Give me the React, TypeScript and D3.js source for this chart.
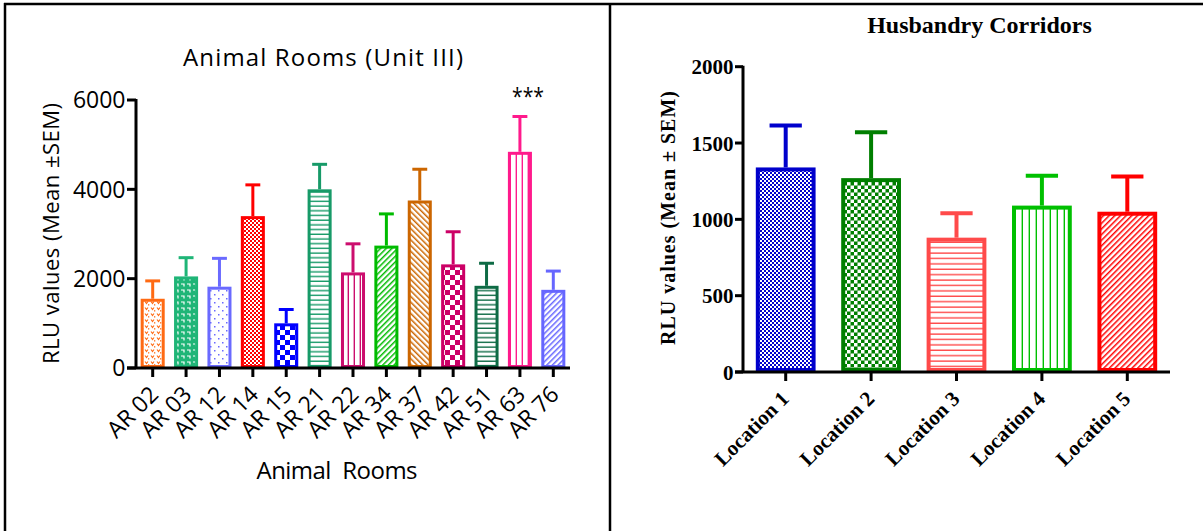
import { scaleBand, scaleLinear } from 'd3'

// left panel: animal rooms
const rooms = ['AR 02', 'AR 03', 'AR 12', 'AR 14', 'AR 15', 'AR 21', 'AR 22', 'AR 34', 'AR 37', 'AR 42', 'AR 51', 'AR 63', 'AR 76']
const roomMeans = [1550, 2050, 1820, 3400, 1000, 4000, 2140, 2740, 3750, 2320, 1840, 4840, 1750]
const roomSems = [400, 420, 635, 700, 310, 560, 640, 710, 700, 730, 505, 790, 420]
const roomTicks = [0, 2000, 4000, 6000]
const roomColors = ['#FF6A13', '#1FB577', '#6A6AFF', '#FF0000', '#0000FF', '#179A68', '#CC0E6E', '#00BB00', '#CC6600', '#CC0066', '#0E6B45', '#FF1A8C', '#6666FF']
const roomPatterns = ['hearts', 'bricks', 'dots', 'checkS', 'checkL', 'hlines', 'vlines', 'slash', 'back', 'checkL', 'hlines', 'vlines', 'slash']

// right panel: husbandry corridors
const locations = ['Location 1', 'Location 2', 'Location 3', 'Location 4', 'Location 5']
const locMeans = [1340, 1270, 880, 1090, 1050]
const locSems = [275, 300, 160, 195, 230]
const locTicks = [0, 500, 1000, 1500, 2000]
const locColors = ['#0000CC', '#007F00', '#FF4A4A', '#00C000', '#FF0000']
const locPatterns = ['checkS', 'checkM', 'hlinesW', 'vlinesW', 'slash']

const sans = '"Open Sans", Lato, sans-serif'
const serif = '"Liberation Serif", "Times New Roman", serif'

let Pattern = ({ id, kind, color }) => {
    let common = { id, patternUnits: 'userSpaceOnUse' }
    if (kind === 'checkS' || kind === 'checkM' || kind === 'checkL') {
        let s = kind === 'checkS' ? 2 : kind === 'checkM' ? 3.5 : 5
        return (
            <pattern {...common} width={2 * s} height={2 * s}>
                <rect width={2 * s} height={2 * s} fill={color} />
                <rect width={s} height={s} fill='white' />
                <rect x={s} y={s} width={s} height={s} fill='white' />
            </pattern>
        )
    }
    if (kind === 'hlines' || kind === 'hlinesW') {
        let g = kind === 'hlines' ? 4.7 : 5.4
        return (
            <pattern {...common} width={6} height={g}>
                <rect width={6} height={g} fill='white' />
                <rect y={g - 1.4} width={6} height={1.4} fill={color} />
            </pattern>
        )
    }
    if (kind === 'vlines' || kind === 'vlinesW') {
        let g = kind === 'vlines' ? 6 : 7
        return (
            <pattern {...common} width={g} height={6} x={1}>
                <rect width={g} height={6} fill='white' />
                <rect x={g - 1.4} width={1.4} height={6} fill={color} />
            </pattern>
        )
    }
    if (kind === 'slash' || kind === 'back') {
        return (
            <pattern {...common} width={4} height={4} patternTransform={`rotate(${kind === 'slash' ? 45 : -45})`}>
                <rect width={4} height={4} fill='white' />
                <rect width={1.5} height={4} fill={color} />
            </pattern>
        )
    }
    if (kind === 'dots') {
        return (
            <pattern {...common} width={8} height={8}>
                <rect width={8} height={8} fill='white' />
                <rect x={2} y={2} width={1.5} height={1.5} fill={color} />
                <rect x={6} y={6} width={1.5} height={1.5} fill={color} />
            </pattern>
        )
    }
    if (kind === 'bricks') {
        return (
            <pattern {...common} width={6} height={6}>
                <rect width={6} height={6} fill={color} />
                <path d='M1,2 H4 V4.5' stroke='white' strokeWidth={1.2} fill='none' />
            </pattern>
        )
    }
    // hearts: small orange v marks on white
    return (
        <pattern {...common} width={6} height={6}>
            <rect width={6} height={6} fill='white' />
            <path d='M1,1.5 L2.5,3.5 L4,1.5' stroke={color} strokeWidth={1.1} fill='none' />
            <rect x={4} y={4.2} width={1.3} height={1.3} fill={color} />
        </pattern>
    )
}

let BarPanel = ({ prefix, cats, means, sems, colors, patterns, ticks, yMax, xRange, yRange, pad, sw, capFrac, font, weight, tickSize, labelSize, labelDx }) => {
    let xScale = scaleBand()
        .domain(cats)
        .range(xRange)
        .paddingInner(pad)
        .paddingOuter(pad / 2)

    let yScale = scaleLinear()
        .domain([0, yMax])
        .range(yRange)

    let bw = xScale.bandwidth()
    let y0 = yScale(0)
    let axisX = xRange[0]

    return (
        <g>
            <defs>
                {cats.map((c, i) => (
                    <Pattern key={c} id={`${prefix}${i}`} kind={patterns[i]} color={colors[i]} />
                ))}
            </defs>

            {cats.map((c, i) => {
                let x0 = xScale(c)
                let cx = x0 + bw / 2
                let yTop = yScale(means[i])
                let yCap = yScale(means[i] + sems[i])
                let capW = bw * capFrac
                return (
                    <g key={c}>
                        <line x1={cx} x2={cx} y1={yTop} y2={yCap} stroke={colors[i]} strokeWidth={sw} />
                        <line x1={cx - capW / 2} x2={cx + capW / 2} y1={yCap} y2={yCap} stroke={colors[i]} strokeWidth={sw} />
                        <rect
                            x={x0 + sw / 2}
                            y={yTop + sw / 2}
                            width={bw - sw}
                            height={y0 - yTop - sw}
                            fill={`url(#${prefix}${i})`}
                            stroke={colors[i]}
                            strokeWidth={sw}
                        />
                    </g>
                )
            })}

            {/* axes */}
            <line x1={axisX} x2={axisX} y1={y0} y2={yScale(yMax) - 1} stroke='black' strokeWidth={3} />
            <line x1={axisX - tickSize} x2={xRange[1]} y1={y0} y2={y0} stroke='black' strokeWidth={3} />

            {ticks.map(t => (
                <g key={t} transform={`translate(${axisX},${yScale(t)})`}>
                    <line x1={-tickSize} x2={0} stroke='black' strokeWidth={3} />
                    <text x={-tickSize - 1.5} dy='.36em' textAnchor='end' fontFamily={font} fontWeight={weight} fontSize={labelSize}>{t}</text>
                </g>
            ))}

            {cats.map(c => {
                let cx = xScale(c) + bw / 2
                return (
                    <g key={c}>
                        <line x1={cx} x2={cx} y1={y0} y2={y0 + 9} stroke='black' strokeWidth={3} />
                        <text
                            transform={`translate(${cx + labelDx},${y0 + 28}) rotate(-45)`}
                            textAnchor='end'
                            fontFamily={font}
                            fontWeight={weight}
                            fontSize={labelSize}
                        >
                            {c}
                        </text>
                    </g>
                )
            })}
        </g>
    )
}

let App = () => {
    return (
        <svg width={1203} height={531} style={{ position: 'absolute', left: 0, top: 0, background: 'white' }}>
            {/* frame */}
            <line x1={4} x2={1203} y1={4} y2={4} stroke='black' strokeWidth={2.5} />
            <line x1={5} x2={5} y1={3} y2={531} stroke='black' strokeWidth={2.5} />
            <line x1={610} x2={610} y1={3} y2={531} stroke='black' strokeWidth={2.5} />

            {/* left chart */}
            <text x={323} y={66} textAnchor='middle' fontFamily={sans} fontSize={24} textLength={280} lengthAdjust='spacing'>Animal Rooms (Unit III)</text>
            <text transform='translate(59,233.5) rotate(-90)' textAnchor='middle' fontFamily={sans} fontSize={22} textLength={261} lengthAdjust='spacing'>RLU values (Mean ±SEM)</text>
            <text x={337} y={479} textAnchor='middle' fontFamily={sans} fontSize={24} textLength={161} lengthAdjust='spacing' style={{ whiteSpace: 'pre' }}>Animal  Rooms</text>
            <BarPanel
                prefix='ar'
                cats={rooms}
                means={roomMeans}
                sems={roomSems}
                colors={roomColors}
                patterns={roomPatterns}
                ticks={roomTicks}
                yMax={6000}
                xRange={[136, 570]}
                yRange={[368, 100]}
                pad={0.28}
                sw={3}
                capFrac={0.62}
                font={sans}
                weight='normal'
                tickSize={9}
                labelSize={23}
                labelDx={7}
            />
            <text x={528} y={105} textAnchor='middle' fontFamily={sans} fontSize={24} textLength={32} lengthAdjust='spacingAndGlyphs'>***</text>

            {/* right chart */}
            <text x={979.5} y={33} textAnchor='middle' fontFamily={serif} fontWeight='bold' fontSize={24}>Husbandry Corridors</text>
            <text transform='translate(675,218) rotate(-90)' textAnchor='middle' fontFamily={serif} fontWeight='bold' fontSize={20} textLength={254} lengthAdjust='spacing'>RLU values (Mean ± SEM)</text>
            <BarPanel
                prefix='loc'
                cats={locations}
                means={locMeans}
                sems={locSems}
                colors={locColors}
                patterns={locPatterns}
                ticks={locTicks}
                yMax={2000}
                xRange={[743, 1170]}
                yRange={[372, 66.7]}
                pad={0.3}
                sw={4}
                capFrac={0.54}
                font={serif}
                weight='bold'
                tickSize={8}
                labelSize={21}
                labelDx={4.5}
            />
        </svg>
    )
}

export default App
